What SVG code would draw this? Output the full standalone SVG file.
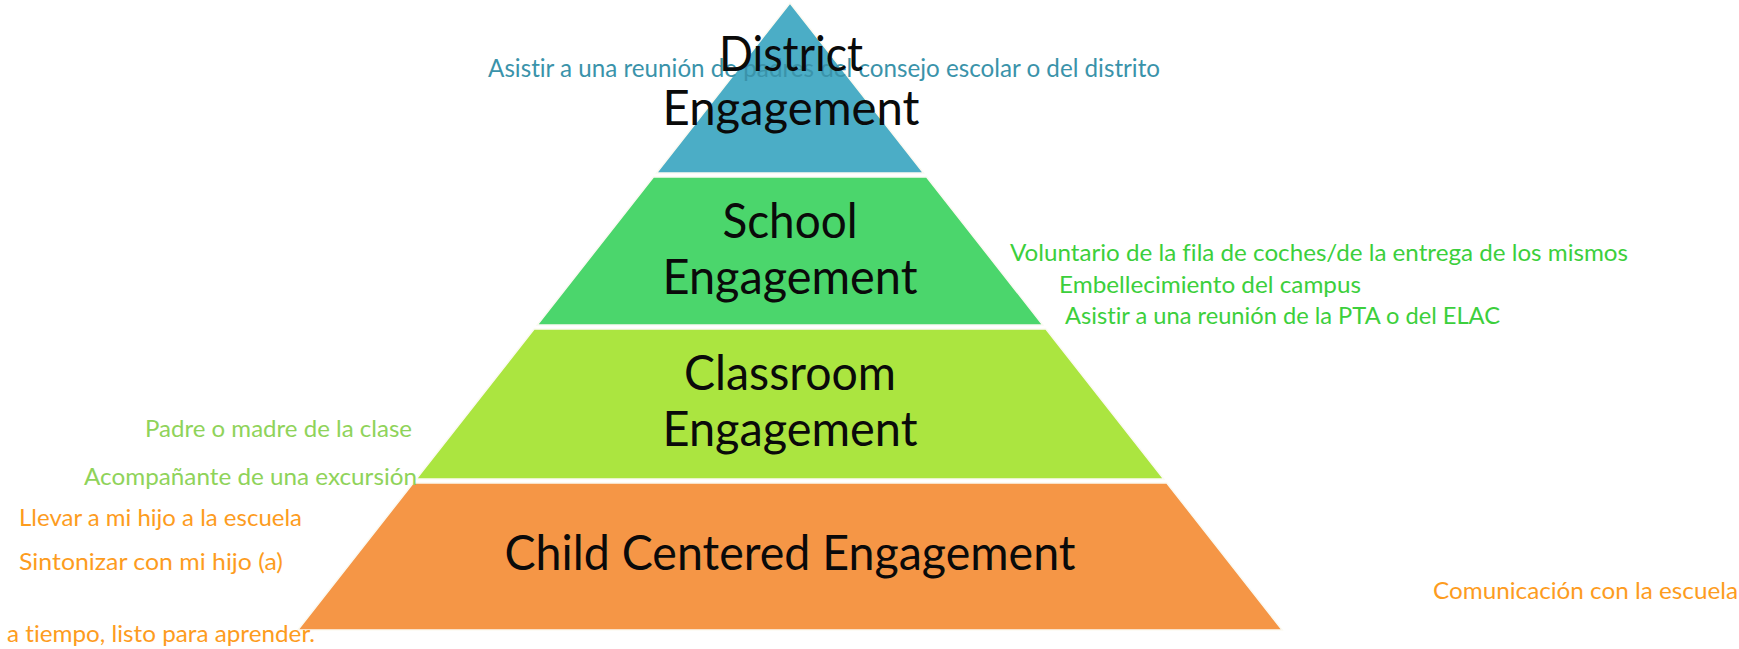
<svg xmlns="http://www.w3.org/2000/svg" width="1739" height="649" viewBox="0 0 1739 649">
  <style>
    text { font-variant-ligatures: none; }
    .tier { stroke: #fbfaf2; stroke-width: 1.5; }
    .lbl { font-family: Lato, "Open Sans", "Liberation Sans", sans-serif; font-size: 48px; fill: #0a0a0a; text-anchor: middle; }
    .ann { font-family: Lato, "Open Sans", "Liberation Sans", sans-serif; font-size: 24px; }
    .teal { fill: #3a93aa; font-size: 25px; }
    .grn { fill: #3ccf3c; }
    .lgrn { fill: #8fd35a; }
    .org { fill: #fd9c1e; }
  </style>
  <rect width="1739" height="649" fill="#ffffff"/>

  <g id="tier-district">
    <polygon class="tier" points="790,3 923.5,173 656.5,173" fill="#4badc6"/>
  </g>
  <g id="tier-school">
    <polygon class="tier" points="653.4,177 926.6,177 1042.8,325 537.2,325" fill="#4bd66c"/>
    <text class="lbl" x="790" y="238" textLength="135" lengthAdjust="spacingAndGlyphs">School</text>
    <text class="lbl" x="790" y="294" textLength="255" lengthAdjust="spacingAndGlyphs">Engagement</text>
  </g>
  <g id="tier-classroom">
    <polygon class="tier" points="534.1,329 1045.9,329 1163.7,479 416.3,479" fill="#abe540"/>
    <text class="lbl" x="790" y="390" textLength="212" lengthAdjust="spacingAndGlyphs">Classroom</text>
    <text class="lbl" x="790" y="446" textLength="255" lengthAdjust="spacingAndGlyphs">Engagement</text>
  </g>
  <g id="tier-child">
    <polygon class="tier" points="413.2,483 1166.8,483 1282.2,630 297.8,630" fill="#f59646"/>
    <text class="lbl" x="790" y="570" textLength="571" lengthAdjust="spacingAndGlyphs">Child Centered Engagement</text>
  </g>

  <g id="note-district">
    <text class="ann teal" x="488" y="77" textLength="672" lengthAdjust="spacingAndGlyphs">Asistir a una reunión de padres del consejo escolar o del distrito</text>
  </g>
  <g id="label-district">
    <text class="lbl" x="791" y="71" textLength="144" lengthAdjust="spacingAndGlyphs">District</text>
    <text class="lbl" x="791" y="125" textLength="257" lengthAdjust="spacingAndGlyphs">Engagement</text>
  </g>

  <g id="notes-school">
    <text class="ann grn" x="1010" y="261" textLength="618" lengthAdjust="spacingAndGlyphs">Voluntario de la fila de coches/de la entrega de los mismos</text>
    <text class="ann grn" x="1059" y="293" textLength="302" lengthAdjust="spacingAndGlyphs">Embellecimiento del campus</text>
    <text class="ann grn" x="1065" y="324" textLength="435" lengthAdjust="spacingAndGlyphs">Asistir a una reunión de la PTA o del ELAC</text>
  </g>

  <g id="notes-classroom">
    <text class="ann lgrn" x="145" y="437" textLength="267" lengthAdjust="spacingAndGlyphs">Padre o madre de la clase</text>
    <text class="ann lgrn" x="84" y="485" textLength="333" lengthAdjust="spacingAndGlyphs">Acompañante de una excursión</text>
  </g>

  <g id="notes-child">
    <text class="ann org" x="19" y="526" textLength="283" lengthAdjust="spacingAndGlyphs">Llevar a mi hijo a la escuela</text>
    <text class="ann org" x="19" y="570" textLength="264" lengthAdjust="spacingAndGlyphs">Sintonizar con mi hijo (a)</text>
    <text class="ann org" x="7" y="642" textLength="308" lengthAdjust="spacingAndGlyphs">a tiempo, listo para aprender.</text>
    <text class="ann org" x="1433" y="599" textLength="305" lengthAdjust="spacingAndGlyphs">Comunicación con la escuela</text>
  </g>
</svg>
